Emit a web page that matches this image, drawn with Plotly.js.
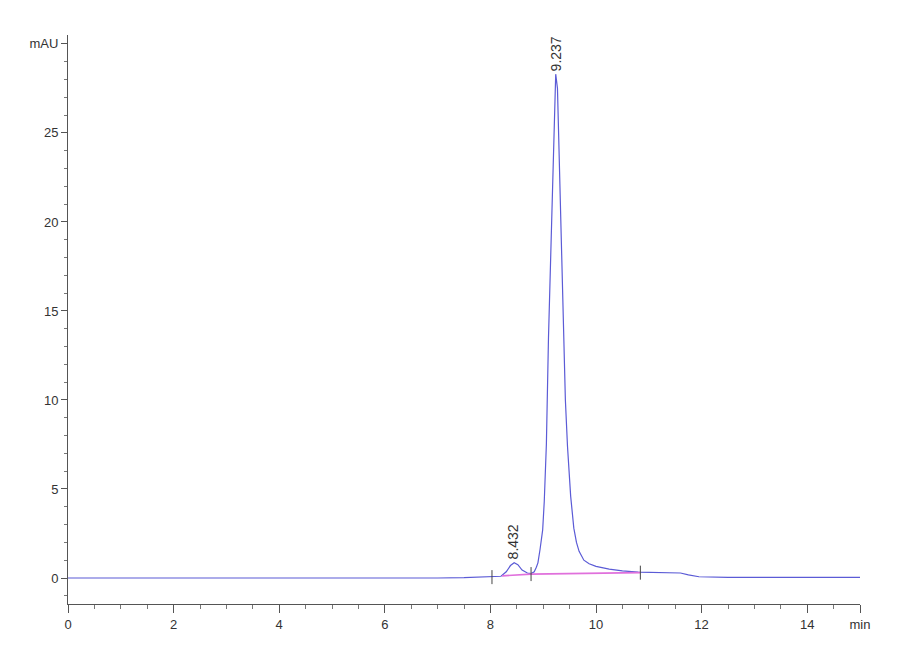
<!DOCTYPE html>
<html>
<head>
<meta charset="utf-8">
<script src="https://cdn.plot.ly/plotly-3.0.1.min.js"></script>
<style>
  body { margin: 0; background: #fff; }
  #myDiv { width: 900px; height: 660px; }
</style>
</head>
<body>
<div id="myDiv"></div>
<script>
// chromatogram signal (time in min, signal in mAU)
const time = [0, 1, 2, 2.2, 2.6, 3, 4, 5, 6, 7, 7.5, 8.0, 8.2, 8.3, 8.38, 8.45, 8.52, 8.6, 8.7, 8.77,
    8.83, 8.87, 8.90, 8.94, 8.99, 9.02, 9.06, 9.10, 9.15, 9.20, 9.237, 9.27, 9.33, 9.38, 9.42, 9.46,
    9.52, 9.58, 9.63, 9.68, 9.77, 9.87, 10.0, 10.25, 10.5, 10.8, 11.0, 11.3, 11.5, 11.6, 11.75, 11.95,
    12.5, 13, 14, 15];
const signal = [0, 0, 0, -0.01, -0.03, -0.02, 0, 0, 0, 0, 0.02, 0.05, 0.1, 0.35, 0.7, 0.86, 0.75, 0.45, 0.28, 0.25,
    0.35, 0.6, 0.85, 1.6, 2.7, 4.3, 7.5, 13.5, 19.5, 25.5, 28.3, 27.5, 20, 14, 10, 7.4,
    4.6, 2.8, 2.0, 1.5, 1.0, 0.8, 0.65, 0.5, 0.4, 0.33, 0.32, 0.3, 0.32, 0.28, 0.18, 0.07,
    0.04, 0.03, 0.03, 0.03];

// integration baseline (pink)
const baseTime = [8.22, 8.77, 10.84];
const baseValue = [0.12, 0.22, 0.3];

// integration event marks
const eventTime = [8.03, 8.77, 10.84];
const eventValue = [0.05, 0.22, 0.3];

// peak labels
const peakTimes = [8.432, 9.237];
const peakHeights = [0.86, 28.3];
const peakLabels = ['8.432', '9.237'];

// axis ticks
const xTickVals = [0, 2, 4, 6, 8, 10, 12, 14, 15];
const xTickText = ['0', '2', '4', '6', '8', '10', '12', '14', 'min'];
const yTickVals = [0, 5, 10, 15, 20, 25, 30];
const yTickText = ['0', '5', '10', '15', '20', '25', 'mAU'];

const fontFam = 'Liberation Sans, Arial, sans-serif';

var signalTrace = {
    x: time,
    y: signal,
    mode: 'lines',
    line: { color: '#5b5bd6', width: 1.2 },
    hoverinfo: 'skip',
    type: 'scatter'
};

var baseTrace = {
    x: baseTime,
    y: baseValue,
    mode: 'lines',
    line: { color: '#e070dc', width: 1.6 },
    hoverinfo: 'skip',
    type: 'scatter'
};

var eventTrace = {
    x: eventTime,
    y: eventValue,
    mode: 'markers',
    marker: { symbol: 'line-ns-open', size: 10, color: '#444', line: { color: '#444', width: 1 } },
    hoverinfo: 'skip',
    type: 'scatter'
};

var annotations = peakTimes.map(function(t, i) {
    return {
        x: t,
        y: peakHeights[i],
        text: peakLabels[i],
        textangle: -90,
        xanchor: 'center',
        yanchor: 'bottom',
        yshift: 1,
        showarrow: false,
        font: { family: fontFam, size: 14, color: '#333' }
    };
});

var layout = {
    width: 900,
    height: 660,
    margin: { l: 68, r: 40, t: 35, b: 56 },
    paper_bgcolor: '#fff',
    plot_bgcolor: '#fff',
    showlegend: false,
    font: { family: fontFam, size: 13, color: '#333' },
    xaxis: {
        range: [0, 15],
        tickmode: 'array',
        tickvals: xTickVals,
        ticktext: xTickText,
        ticks: 'outside',
        ticklen: 8,
        tickcolor: '#555',
        showline: true,
        linecolor: '#555',
        linewidth: 1,
        showgrid: false,
        zeroline: false,
        minor: { tickmode: 'linear', tick0: 0, dtick: 0.5, ticks: 'outside', ticklen: 4, tickcolor: '#777' }
    },
    yaxis: {
        range: [-1.46, 30.5],
        tickmode: 'array',
        tickvals: yTickVals,
        ticktext: yTickText,
        ticks: 'outside',
        ticklen: 6,
        tickcolor: '#555',
        showline: true,
        linecolor: '#555',
        linewidth: 1,
        showgrid: false,
        zeroline: false,
        minor: { tickmode: 'linear', tick0: 0, dtick: 1, ticks: 'outside', ticklen: 3, tickcolor: '#777' }
    },
    annotations: annotations
};

Plotly.newPlot('myDiv', [signalTrace, baseTrace, eventTrace], layout, { staticPlot: true });
</script>
</body>
</html>
